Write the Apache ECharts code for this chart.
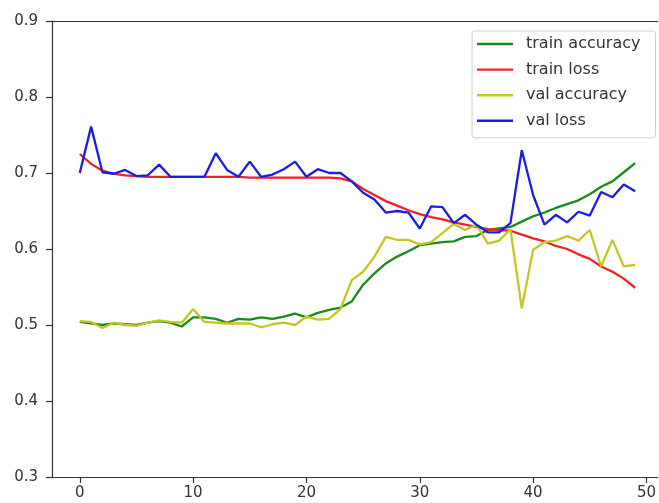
<!DOCTYPE html>
<html>
<head>
<meta charset="utf-8">
<script src="https://cdn.jsdelivr.net/npm/echarts@6/dist/echarts.min.js"></script>
<style>
  html, body { margin: 0; padding: 0; background: #fff; }
  #chart { width: 659px; height: 503px; filter: blur(0.45px); }
</style>
</head>
<body>
<div id="chart"></div>
<script>
// Training history: accuracy and loss per epoch
const epochs = Array.from({ length: 50 }, (_, i) => i);

const trainAccuracy = [
  0.504, 0.502, 0.500, 0.502, 0.501, 0.500, 0.503, 0.505, 0.503, 0.498,
  0.510, 0.510, 0.508, 0.503, 0.508, 0.507, 0.510, 0.508, 0.511, 0.515,
  0.510, 0.516, 0.520, 0.523, 0.531, 0.553, 0.568, 0.581, 0.590, 0.597,
  0.605, 0.607, 0.609, 0.610, 0.616, 0.617, 0.625, 0.627, 0.629, 0.636,
  0.643, 0.648, 0.654, 0.659, 0.664, 0.672, 0.682, 0.689, 0.701, 0.713
];

const trainLoss = [
  0.725, 0.712, 0.703, 0.699, 0.697, 0.696, 0.695, 0.695, 0.695, 0.695,
  0.695, 0.695, 0.695, 0.695, 0.695, 0.694, 0.694, 0.694, 0.694, 0.694,
  0.694, 0.694, 0.694, 0.693, 0.689, 0.679, 0.671, 0.663, 0.657, 0.651,
  0.646, 0.642, 0.639, 0.635, 0.632, 0.629, 0.626, 0.625, 0.624, 0.619,
  0.614, 0.610, 0.604, 0.600, 0.593, 0.587, 0.577, 0.570, 0.561, 0.549
];

const valAccuracy = [
  0.505, 0.504, 0.496, 0.503, 0.500, 0.499, 0.503, 0.506, 0.504, 0.503,
  0.521, 0.504, 0.503, 0.502, 0.502, 0.502, 0.497, 0.501, 0.503, 0.500,
  0.511, 0.507, 0.508, 0.521, 0.559, 0.570, 0.590, 0.616, 0.612, 0.612,
  0.606, 0.609, 0.621, 0.633, 0.625, 0.632, 0.607, 0.611, 0.626, 0.522,
  0.599, 0.609, 0.611, 0.617, 0.611, 0.625, 0.577, 0.612, 0.577, 0.579
];

const valLoss = [
  0.700, 0.761, 0.701, 0.699, 0.704, 0.696, 0.697, 0.711, 0.695, 0.695,
  0.695, 0.695, 0.726, 0.704, 0.695, 0.715, 0.695, 0.698, 0.705, 0.715,
  0.695, 0.705, 0.700, 0.700, 0.689, 0.674, 0.665, 0.648, 0.650, 0.648,
  0.627, 0.656, 0.655, 0.634, 0.645, 0.632, 0.622, 0.622, 0.634, 0.730,
  0.671, 0.632, 0.645, 0.635, 0.649, 0.644, 0.675, 0.668, 0.685, 0.676
];

const xTicks = [0, 10, 20, 30, 40, 50];
const yTicks = [0.3, 0.4, 0.5, 0.6, 0.7, 0.8, 0.9];

const seriesDefs = [
  { name: 'train accuracy', values: trainAccuracy, color: '#1a8a1a' },
  { name: 'train loss',     values: trainLoss,     color: '#f02222' },
  { name: 'val accuracy',   values: valAccuracy,   color: '#c6c622' },
  { name: 'val loss',       values: valLoss,       color: '#1c1ce8' }
];

const axisColor = '#333';
const fontFamily = '"DejaVu Sans", sans-serif';

const chart = echarts.init(document.getElementById('chart'), null, { renderer: 'canvas' });

// The plot area runs past the right edge of the canvas, so only the
// left, bottom and top frame lines are drawn.
const xMin = -2.45, xMax = 51.0;

chart.setOption({
  animation: false,
  backgroundColor: '#fff',
  grid: { left: 52, top: 21, right: 0, bottom: 26, show: false },
  xAxis: [{
    type: 'value',
    min: xMin, max: xMax,
    splitLine: { show: false },
    axisLine: { show: true, onZero: false, lineStyle: { color: axisColor, width: 1.2 } },
    axisTick: { show: true, length: 6, customValues: xTicks, lineStyle: { color: axisColor, width: 1.2 } },
    axisLabel: {
      customValues: xTicks, margin: 9,
      color: axisColor, fontSize: 15, fontFamily: fontFamily,
      formatter: v => String(v)
    }
  }, {
    type: 'value',
    position: 'top',
    min: xMin, max: xMax,
    splitLine: { show: false },
    axisLine: { show: true, onZero: false, lineStyle: { color: axisColor, width: 1.2 } },
    axisTick: { show: false },
    axisLabel: { show: false }
  }],
  yAxis: {
    type: 'value',
    min: 0.3, max: 0.9,
    splitLine: { show: false },
    axisLine: { show: true, onZero: false, lineStyle: { color: axisColor, width: 1.2 } },
    axisTick: { show: true, length: 6, customValues: yTicks, lineStyle: { color: axisColor, width: 1.2 } },
    axisLabel: {
      customValues: yTicks, margin: 14,
      color: axisColor, fontSize: 15, fontFamily: fontFamily,
      formatter: v => v.toFixed(1)
    }
  },
  legend: {
    orient: 'vertical',
    left: 472, top: 31,
    padding: [5, 15, 9, 5],
    itemGap: 9.6,
    icon: 'rect',
    itemWidth: 36, itemHeight: 2.4,
    backgroundColor: 'rgba(255,255,255,0.8)',
    borderColor: '#d0d0d0', borderWidth: 1, borderRadius: 3,
    textStyle: {
      color: '#333', fontSize: 16, fontFamily: fontFamily,
      lineHeight: 16, padding: [0, 0, 0, 8]
    },
    data: seriesDefs.map(s => s.name)
  },
  series: seriesDefs.map(s => ({
    name: s.name,
    type: 'line',
    xAxisIndex: 0,
    data: epochs.map((e, i) => [e, s.values[i]]),
    symbol: 'none',
    lineStyle: { color: s.color, width: 2.3 },
    itemStyle: { color: s.color },
    emphasis: { disabled: true }
  }))
});
</script>
</body>
</html>
